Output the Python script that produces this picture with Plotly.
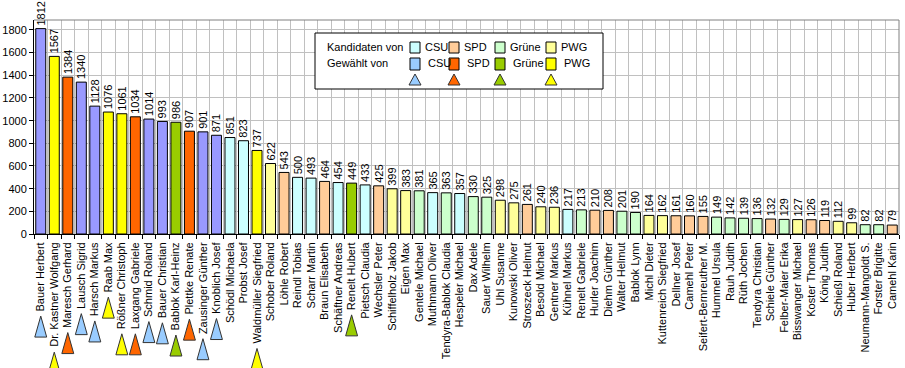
import plotly.graph_objects as go

names = ["Bauer Herbert", "Dr. Kastner Wolfgang", "Maresch Gerhard", "Lausch Sigrid", "Harsch Markus",
         "Raab Max", "Rößner Christoph", "Laxgang Gabriele", "Schmid Roland", "Bauer Christian",
         "Bablok Karl-Heinz", "Plettke Renate", "Zausinger Günther", "Knoblich Josef", "Schödl Michaela",
         "Probst Josef", "Waldmüller Siegfried", "Schober Roland", "Löhle Robert", "Reindl Tobias",
         "Scharr Martin", "Braun Elisabeth", "Schäftner Andreas", "Renelt Hubert", "Pietsch Claudia",
         "Wechsler Peter", "Schiffelholz Jakob", "Eigen Max", "Gentele Michael", "Muthmann Oliver",
         "Tendyra-Bablok Claudia", "Hespeler Michael", "Dax Adele", "Sauer Wilhelm", "Uhl Susanne",
         "Kunowski Oliver", "Stroszeck Helmut", "Besold Michael", "Gentner Markus", "Kühnel Markus",
         "Renelt Gabriele", "Hurler Joachim", "Diehm Günther", "Walter Helmut", "Bablok Lynn",
         "Michl Dieter", "Kuttenreich Siegfried", "Dellner Josef", "Camehl Peter", "Seifert-Bernreuther M.",
         "Hummel Ursula", "Rauh Judith", "Rüth Jochen", "Tendyra Christian", "Schiele Günther",
         "Felber-Maier Erika", "Bisswanger Michael", "Koster Thomas", "König Judith", "Schießl Roland",
         "Huber Herbert", "Neumann-Mangoldt S.", "Forster Brigitte", "Camehl Karin"]
votes = [1812, 1567, 1384, 1340, 1128, 1076, 1061, 1034, 1014, 993, 986, 907, 901, 871, 851, 823, 737, 622,
         543, 500, 493, 464, 454, 449, 433, 425, 399, 383, 381, 365, 363, 357, 330, 325, 298, 275, 261, 240,
         236, 217, 213, 210, 208, 201, 190, 164, 162, 161, 160, 155, 149, 142, 139, 136, 132, 129, 127, 126,
         119, 112, 99, 82, 82, 79]
party = ["CSU", "PWG", "SPD", "CSU", "CSU", "PWG", "PWG", "SPD", "CSU", "CSU", "Grüne", "SPD", "CSU", "CSU",
         "CSU", "CSU", "PWG", "PWG", "SPD", "CSU", "CSU", "SPD", "CSU", "Grüne", "CSU", "SPD", "PWG", "PWG",
         "Grüne", "CSU", "Grüne", "CSU", "Grüne", "Grüne", "PWG", "PWG", "SPD", "PWG", "PWG", "CSU", "Grüne",
         "SPD", "SPD", "Grüne", "Grüne", "PWG", "PWG", "SPD", "SPD", "SPD", "Grüne", "Grüne", "Grüne", "Grüne",
         "SPD", "Grüne", "PWG", "SPD", "SPD", "PWG", "PWG", "Grüne", "Grüne", "SPD"]
elected = [True] * 14 + [False, False, True] + [False] * 6 + [True] + [False] * 40

parties = ["CSU", "SPD", "Grüne", "PWG"]
cand_color = {"CSU": "#CCFFFF", "SPD": "#FFCC99", "Grüne": "#CCFFCC", "PWG": "#FFFF99"}
elect_color = {"CSU": "#9999FF", "SPD": "#FF6600", "Grüne": "#99CC00", "PWG": "#FFFF00"}
legend_elect = {"CSU": "#99CCFF", "SPD": "#FF6600", "Grüne": "#99CC00", "PWG": "#FFFF00"}
tri_color = {"CSU": "#99CCFF", "SPD": "#FF6600", "Grüne": "#99CC00", "PWG": "#FFFF00"}

W, H = 905, 368
L, R, T = 34, 899, 20
AX = 234  # pixel row of x axis
FONT = "Liberation Sans, Arial, sans-serif"
FS = 11

# approximate Arial advance widths (1/1000 em) to find where a rotated name ends
_wid = {" ": 278, "a": 556, "b": 556, "c": 500, "d": 556, "e": 556, "f": 278, "g": 556, "h": 556, "i": 222,
        "j": 222, "k": 500, "l": 222, "m": 833, "n": 556, "o": 556, "p": 556, "q": 556, "r": 333, "s": 500,
        "t": 278, "u": 556, "v": 500, "w": 722, "x": 500, "y": 500, "z": 500, "ß": 611, ".": 278, "-": 333,
        "A": 667, "B": 667, "C": 722, "D": 722, "E": 667, "F": 611, "G": 778, "H": 722, "I": 278, "J": 500,
        "K": 667, "L": 556, "M": 833, "N": 722, "O": 778, "P": 667, "R": 722, "S": 667, "T": 611, "U": 722,
        "V": 667, "W": 944, "Z": 611}


def text_px(s):
    return sum(_wid.get(c, 556) for c in s) * FS / 1000.0


colors = [elect_color[p] if e else cand_color[p] for p, e in zip(party, elected)]

fig = go.Figure()
fig.add_trace(go.Bar(
    x=names, y=votes, marker=dict(color=colors, line=dict(color="black", width=1)),
    text=[str(v) for v in votes], textposition="outside", textangle=-90,
    textfont=dict(family=FONT, size=FS, color="black"), constraintext="none",
    cliponaxis=False, hoverinfo="x+y", showlegend=False))

# tall triangles under the names of elected candidates
TRI_W = 0.44   # half width in category units
TRI_H = 21     # height in px
for i, (n, p, e) in enumerate(zip(names, party, elected)):
    if not e:
        continue
    top = 9 + text_px(n) + 4
    fig.add_trace(go.Scatter(
        x=[i - TRI_W, i + TRI_W, i, i - TRI_W], y=[top + TRI_H, top + TRI_H, top, top + TRI_H],
        xaxis="x2", yaxis="y2", mode="lines", fill="toself", fillcolor=tri_color[p],
        line=dict(color="#333333", width=1), cliponaxis=False, showlegend=False, hoverinfo="skip"))

plot_h = H - T
ydom0 = (H - AX) / plot_h

fig.update_layout(
    width=W, height=H, margin=dict(l=L, r=W - R, t=T, b=0, autoexpand=False),
    paper_bgcolor="white", plot_bgcolor="white", bargap=0.26,
    font=dict(family=FONT, size=FS, color="black"),
    xaxis=dict(type="category", tickangle=-90, tickson="boundaries", ticks="outside", ticklen=4,
               tickcolor="black", showgrid=True, gridcolor="#C0C0C0", gridwidth=1,
               showline=True, linecolor="black", linewidth=1, mirror=False, ticklabelstandoff=3,
               tickfont=dict(family=FONT, size=FS), automargin=False, range=[-0.5, len(names) - 0.5]),
    xaxis2=dict(overlaying="x", range=[-0.5, len(names) - 0.5], visible=False, anchor="y2"),
    yaxis=dict(domain=[ydom0, 1], range=[0, 1888], dtick=200, tick0=0, ticks="outside", ticklen=4,
               tickcolor="black", showgrid=True, gridcolor="#C0C0C0", gridwidth=1,
               showline=True, linecolor="black", linewidth=1, zeroline=False,
               tickfont=dict(family=FONT, size=FS), automargin=False),
    yaxis2=dict(domain=[0, ydom0], range=[H - AX, 0], visible=False, anchor="x2"),
)


def px(x):
    return (x - L) / (R - L)


def py(y):
    return (H - y) / plot_h


shapes = [
    dict(type="line", xref="paper", yref="paper", x0=0, x1=1, y0=1, y1=1, line=dict(color="#808080", width=1)),
    dict(type="line", xref="paper", yref="paper", x0=1, x1=1, y0=ydom0, y1=1, line=dict(color="#808080", width=1)),
]

# custom legend box
shapes.append(dict(type="rect", xref="paper", yref="paper", x0=px(315), x1=px(603), y0=py(89), y1=py(33),
                   line=dict(color="black", width=1), fillcolor="white", layer="above"))
annotations = [
    dict(text="Kandidaten von", x=px(325), y=py(47.5), xref="paper", yref="paper", showarrow=False,
         xanchor="left", yanchor="middle", font=dict(size=FS)),
    dict(text="Gewählt von", x=px(325), y=py(63), xref="paper", yref="paper", showarrow=False,
         xanchor="left", yanchor="middle", font=dict(size=FS)),
]
sw_x = [410, 449, 495, 546]
for p, sx in zip(parties, sw_x):
    shapes.append(dict(type="rect", xref="paper", yref="paper", x0=px(sx), x1=px(sx + 10),
                       y0=py(53), y1=py(42), line=dict(color="black", width=1),
                       fillcolor=cand_color[p], layer="above"))
    shapes.append(dict(type="rect", xref="paper", yref="paper", x0=px(sx), x1=px(sx + 10),
                       y0=py(70), y1=py(58), line=dict(color="black", width=1),
                       fillcolor=legend_elect[p], layer="above"))
    annotations.append(dict(text=p, x=px(sx + 13), y=py(47.5), xref="paper", yref="paper", showarrow=False,
                            xanchor="left", yanchor="middle", font=dict(size=FS)))
    annotations.append(dict(text=p, x=px(sx + 16), y=py(63), xref="paper", yref="paper", showarrow=False,
                            xanchor="left", yanchor="middle", font=dict(size=FS)))
    cx = sx + 5
    shapes.append(dict(type="path", xref="paper", yref="paper",
                       path=f"M {px(cx - 6)} {py(85)} L {px(cx + 6)} {py(85)} L {px(cx)} {py(74)} Z",
                       line=dict(color="#333333", width=1), fillcolor=tri_color[p], layer="above"))

fig.update_layout(shapes=shapes, annotations=annotations)
fig.write_html("out.html", config={"displayModeBar": False},
               post_script="document.body.style.margin='0';document.body.style.padding='0';")
